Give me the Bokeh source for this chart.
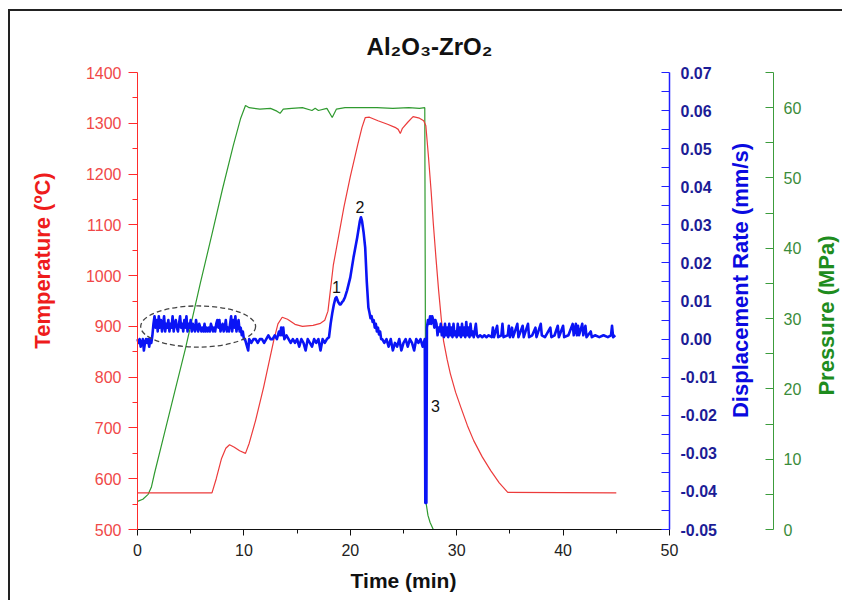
import math
from bokeh.plotting import figure
from bokeh.models import Range1d, LinearAxis, FixedTicker, NumeralTickFormatter
from bokeh.embed import file_html
from bokeh.resources import INLINE
from bokeh.core.properties import value

FONT = "Liberation Sans"

# ---------------- data ----------------
temp_time = [0, 7.0, 7.4, 7.9, 8.3, 8.65, 9.1, 9.6, 10.15, 10.5, 11.1, 11.85, 12.8, 13.2, 13.6,
             14.1, 14.8, 15.5, 16.5, 17.2, 17.6, 17.9, 18.4, 19.4, 20.0, 20.7, 21.1, 21.4, 21.8,
             22.6, 23.5, 24.2, 24.5, 24.7, 24.9, 25.4, 25.9, 26.5, 26.9, 27.1, 27.35, 27.6, 27.8,
             28.05, 28.3, 28.55, 28.76, 29.1, 29.4, 29.9, 30.4, 31.0, 31.6, 32.4, 33.2, 34.0, 34.8, 45.0]
temp_vals = [572, 572, 600, 640, 660, 667, 662, 655, 650, 670, 715, 780, 872, 905, 918,
             914, 904, 900, 902, 906, 912, 930, 1020, 1135, 1195, 1258, 1292, 1311, 1312,
             1305, 1298, 1292, 1288, 1280, 1290, 1302, 1313, 1310, 1305, 1295, 1233, 1165, 1103,
             1035, 971, 915, 872, 835, 807, 770, 740, 705, 675, 643, 616, 592, 573, 572]

pres_time = [0, 0.5, 1.0, 1.3, 1.6, 2.5, 3.5, 4.5, 5.9, 7.0, 8.0, 9.0, 9.7, 10.15, 10.5, 11.5,
             12.5, 13.1, 13.4, 13.7, 14.5, 15.5, 16.4, 16.7, 17.0, 17.8, 18.3, 18.7, 19.5, 21.0,
             22.5, 24.0, 25.5, 26.5, 27.0, 27.1, 27.3, 27.5, 27.8, 28.2, 45.0]
pres_vals = [4.0, 4.3, 5.0, 6.0, 8.0, 13.5, 19.6, 25.7, 35.0, 42.0, 48.5, 54.6, 58.5, 60.3, 60.0, 59.8,
             59.9, 59.5, 59.2, 59.8, 59.9, 60.0, 59.6, 59.9, 59.6, 59.9, 58.6, 59.8, 60.0, 60.0,
             60.0, 59.9, 60.0, 59.9, 60.0, 4.0, 2.0, 1.0, 0.0, 0.0, 0.0]

disp_time = [
    0.0, 0.1, 0.2, 0.3, 0.4, 0.5, 0.6, 0.7, 0.8, 0.9, 1.0, 1.1, 1.2, 1.3, 1.4,
    1.5, 1.6, 1.7, 1.8, 1.9, 2.0, 2.1, 2.2, 2.3, 2.4, 2.5, 2.6, 2.7, 2.8, 2.9,
    3.0, 3.1, 3.2, 3.3, 3.4, 3.5, 3.6, 3.7, 3.8, 3.9, 4.0, 4.1, 4.2, 4.3, 4.4,
    4.5, 4.6, 4.7, 4.8, 4.9, 5.0, 5.1, 5.2, 5.3, 5.4, 5.5, 5.6, 5.7, 5.8, 5.9,
    6.0, 6.1, 6.2, 6.3, 6.4, 6.5, 6.6, 6.7, 6.8, 6.9, 7.0, 7.1, 7.2, 7.3, 7.4,
    7.5, 7.6, 7.7, 7.8, 7.9, 8.0, 8.1, 8.2, 8.3, 8.4, 8.5, 8.6, 8.7, 8.8, 8.9,
    9.0, 9.1, 9.2, 9.3, 9.4, 9.5, 9.6, 9.7, 9.8, 9.9, 10.0,
    10.1, 10.3, 10.4, 10.5, 10.7, 10.9, 11.1, 11.3, 11.5, 11.7, 11.9, 12.1, 12.3, 12.5,
    12.7, 12.9, 13.1, 13.3, 13.4, 13.5, 13.6, 13.7, 13.8, 14.0, 14.2, 14.4, 14.6, 14.8,
    15.0, 15.2, 15.4, 15.6, 15.8, 16.0, 16.2, 16.4, 16.6, 16.8, 17.0, 17.2, 17.4, 17.6, 17.8,
    18.0, 18.15, 18.3, 18.45, 18.6, 18.7, 18.85, 19.0, 19.1, 19.25, 19.35, 19.5, 19.7, 20.0,
    20.3, 20.65, 20.9, 21.0, 21.1, 21.25, 21.4, 21.55, 21.7, 21.8, 21.9, 22.0, 22.1, 22.2,
    22.3, 22.4, 22.5, 22.6, 22.7, 22.8, 22.9,
    23.0, 23.2, 23.4, 23.6, 23.8, 24.0, 24.2, 24.4, 24.6, 24.8, 25.0, 25.2, 25.4, 25.6,
    25.8, 26.0, 26.2, 26.4, 26.6, 26.8, 27.0,
    27.05, 27.15, 27.2, 27.3, 27.4, 27.5, 27.6, 27.7, 27.8, 27.9, 28.0, 28.1, 28.2, 28.3,
    28.4, 28.5, 28.6, 28.7, 28.8, 28.9, 29.0, 29.1, 29.2, 29.3, 29.4, 29.5, 29.6, 29.7,
    29.8, 29.9, 30.0, 30.1, 30.2, 30.3, 30.4, 30.5, 30.6, 30.7, 30.8, 30.9, 31.0, 31.1,
    31.2, 31.3, 31.4, 31.5, 31.6, 31.8, 31.9, 32.0, 32.2, 32.4, 32.6, 32.8, 33.0, 33.3,
    33.4, 33.5, 33.8, 33.9, 34.2, 34.3, 34.4, 34.8, 34.9, 35.0, 35.2, 35.3, 35.7, 35.8,
    36.2, 36.3, 36.7, 36.8, 37.1, 37.4, 37.5, 37.9, 38.0, 38.3, 38.8, 38.9, 39.2, 39.5,
    39.6, 40.0, 40.1, 40.5, 40.9, 41.0, 41.2, 41.3, 41.4, 41.5, 41.8, 41.9, 42.1, 42.2,
    42.6, 42.7, 43.0, 43.4, 43.8, 44.2, 44.5, 44.6, 44.7, 44.9]
disp_rate = [
    0.000, -0.001, 0.000, -0.002, -0.001, 0.000, -0.003, -0.001, 0.000, -0.001, 0.000, -0.002, 0.000, -0.001, 0.001,
    0.004, 0.006, 0.003, 0.005, 0.002, 0.006, 0.003, 0.005, 0.002, 0.004, 0.006, 0.002, 0.004, 0.003, 0.005,
    0.002, 0.004, 0.003, 0.006, 0.002, 0.004, 0.005, 0.003, 0.002, 0.004, 0.006, 0.003, 0.004, 0.002, 0.005,
    0.003, 0.006, 0.002, 0.004, 0.003, 0.005, 0.002, 0.004, 0.003, 0.002, 0.005, 0.003, 0.002, 0.004, 0.003,
    0.002, 0.003, 0.002, 0.004, 0.002, 0.003, 0.002, 0.003, 0.002, 0.004, 0.003, 0.002, 0.003, 0.002, 0.004,
    0.005, 0.003, 0.005, 0.002, 0.003, 0.004, 0.002, 0.003, 0.005, 0.002, 0.003, 0.002, 0.004, 0.006, 0.002,
    0.005, 0.003, 0.006, 0.002, 0.004, 0.005, 0.002, 0.003, 0.001, 0.002, 0.000,
    0.000, -0.002, -0.003, 0.000, -0.001, 0.000, 0.000, -0.001, 0.000, 0.000, -0.001, 0.000, 0.001, 0.000,
    0.000, 0.001, 0.000, 0.002, 0.001, 0.003, 0.001, 0.003, 0.000, 0.001, 0.000, -0.001, 0.000, -0.001,
    0.000, -0.002, 0.000, -0.001, -0.003, 0.000, -0.001, -0.002, 0.000, -0.001, 0.000, -0.003, 0.000, -0.001, 0.000,
    0.0005, 0.004, 0.0067, 0.009, 0.0107, 0.011, 0.0098, 0.0091, 0.0091, 0.0098, 0.0101, 0.011, 0.0128, 0.0162,
    0.0214, 0.0267, 0.031, 0.032, 0.031, 0.028, 0.024, 0.015, 0.0083, 0.007, 0.0055, 0.006, 0.0045, 0.005,
    0.003, 0.004, 0.002, 0.003, 0.0012, 0.002, 0.000,
    0.000, -0.001, 0.000, -0.002, 0.000, -0.003, -0.001, -0.002, 0.000, -0.003, -0.001, 0.000, -0.002, 0.000,
    -0.001, -0.003, 0.000, -0.001, 0.000, -0.002, 0.000,
    -0.043, -0.043, 0.003, 0.005, 0.004, 0.006, 0.004, 0.006, 0.005, 0.003, 0.005, 0.004, 0.001, 0.003,
    0.002, 0.004, 0.001, 0.003, 0.0005, 0.004, 0.001, 0.003, 0.0005, 0.004, 0.001, 0.003, 0.0005, 0.004,
    0.001, 0.002, 0.0005, 0.004, 0.001, 0.003, 0.0005, 0.004, 0.001, 0.003, 0.0005, 0.0045, 0.001, 0.003,
    0.0005, 0.004, 0.001, 0.002, 0.0005, 0.004, 0.001, 0.0005, 0.001, 0.0005, 0.001, 0.0005, 0.001, 0.0005,
    0.003, 0.0005, 0.0035, 0.0005, 0.001, 0.004, 0.0005, 0.001, 0.0035, 0.0005, 0.003, 0.0005, 0.004, 0.0005,
    0.0035, 0.0005, 0.004, 0.0005, 0.001, 0.003, 0.0005, 0.004, 0.001, 0.0005, 0.003, 0.0005, 0.001, 0.0035,
    0.0005, 0.0035, 0.0005, 0.001, 0.004, 0.001, 0.004, 0.001, 0.0035, 0.001, 0.004, 0.001, 0.0035, 0.0005,
    0.002, 0.0005, 0.001, 0.0005, 0.001, 0.0005, 0.001, 0.0035, 0.0005, 0.001]

# annotation texts
peak_labels = ["1", "2", "3"]
peak_label_t = [18.7, 20.9, 28.0]
peak_label_d = [0.0138, 0.0348, -0.0177]

# dashed ellipse around the early noise (time centre, rate centre, width min, height rate)
ell_t, ell_d, ell_w, ell_h = [5.7], [0.0033], [10.8], [0.0108]

time_span = (0, 50)
temp_span = (500, 1400)
disp_span = (-0.05, 0.07)
pres_span = (0, 65)

temp_ticks = [500, 600, 700, 800, 900, 1000, 1100, 1200, 1300, 1400]
temp_minor = [550, 650, 750, 850, 950, 1050, 1150, 1250, 1350]
time_ticks = [0, 10, 20, 30, 40, 50]
time_minor = [5, 15, 25, 35, 45]
disp_ticks = [-0.05, -0.04, -0.03, -0.02, -0.01, 0.0, 0.01, 0.02, 0.03, 0.04, 0.05, 0.06, 0.07]
disp_minor = [-0.045, -0.035, -0.025, -0.015, -0.005, 0.005, 0.015, 0.025, 0.035, 0.045, 0.055, 0.065]
pres_ticks = [0, 5, 10, 15, 20, 25, 30, 35, 40, 45, 50, 55, 60, 65]
pres_labels = {0: "0", 5: "", 10: "10", 15: "", 20: "20", 25: "", 30: "30", 35: "",
               40: "40", 45: "", 50: "50", 55: "", 60: "60", 65: ""}

# ---------------- layout (pixels) ----------------
W, H = 842, 600
X0_PX, X1_PX = 137, 669      # pixel columns of the time-axis ends
YT_PX, YB_PX = 72, 529       # pixel rows of the value-axis ends
PRES_AXIS_PX = 773


def view(span, lo_px, hi_px, size, flip):
    """Range spanning the whole canvas that maps span onto [lo_px, hi_px]."""
    a, b = span
    k = (b - a) / (hi_px - lo_px)
    if flip:   # vertical: pixel rows grow downward
        return Range1d(a - (size - hi_px) * k, b + lo_px * k)
    return Range1d(a - lo_px * k, b + (size - hi_px) * k)


def tx(px):
    return time_span[0] + (px - X0_PX) * (time_span[1] - time_span[0]) / (X1_PX - X0_PX)


def ty(py):
    return temp_span[1] - (py - YT_PX) * (temp_span[1] - temp_span[0]) / (YB_PX - YT_PX)


# colours
RED_LINE = "#ec3b3b"
RED_AX = "#ff2b2b"
RED_TXT = "#f04848"
RED_LBL = "#ee1c1c"
BLUE_LINE = "#0a14f5"
BLUE_AX = "#2020ff"
BLUE_TXT = "#1c1c96"
BLUE_LBL = "#0a0ae0"
GREEN_LINE = "#2f9a2f"
GREEN_AX = "#3c9c3c"
GREEN_TXT = "#3a8c3a"
GREEN_LBL = "#1e8c1e"

# ---------------- figure ----------------
p = figure(width=W, height=H,
           x_range=view(time_span, X0_PX, X1_PX, W, False),
           y_range=view(temp_span, YT_PX, YB_PX, H, True),
           output_backend="svg", toolbar_location=None,
           min_border_left=0, min_border_right=0, min_border_top=0, min_border_bottom=0)
p.extra_y_ranges = {"disp": view(disp_span, YT_PX, YB_PX, H, True),
                    "pres": view(pres_span, YT_PX, YB_PX, H, True)}
p.title.visible = False
p.xgrid.visible = False
p.ygrid.visible = False
p.outline_line_color = None
p.border_fill_color = None
p.background_fill_color = None
p.styles = {"box-shadow": "inset 8px 0 0 0 #fff, inset 0 9px 0 0 #fff, "
                          "inset 10px 0 0 0 #222, inset 0 11px 0 0 #222"}

# bottom axis
xa = p.xaxis[0]
xa.fixed_location = temp_span[0]
xa.bounds = time_span
xa.ticker = FixedTicker(ticks=time_ticks, minor_ticks=time_minor)
xa.major_label_text_font = FONT
xa.major_label_text_font_size = "16px"
xa.major_label_text_color = "#222222"
xa.major_label_standoff = 8
xa.axis_line_color = "#111111"
xa.major_tick_line_color = "#111111"
xa.minor_tick_line_color = "#111111"
xa.major_tick_in = 0
xa.major_tick_out = 6
xa.minor_tick_in = 0
xa.minor_tick_out = 4

# left (temperature) axis
ya = p.yaxis[0]
ya.fixed_location = time_span[0]
ya.bounds = temp_span
ya.ticker = FixedTicker(ticks=temp_ticks, minor_ticks=temp_minor)
ya.major_label_text_font = FONT
ya.major_label_text_font_size = "16px"
ya.major_label_text_color = RED_TXT
ya.major_label_standoff = 7
ya.axis_line_color = RED_AX
ya.major_tick_line_color = RED_AX
ya.minor_tick_line_color = RED_AX
ya.major_tick_in = 0
ya.major_tick_out = 9
ya.minor_tick_in = 0
ya.minor_tick_out = 5

# right axis 1: displacement rate (at the end of the time axis)
da = LinearAxis(y_range_name="disp", fixed_location=time_span[1], bounds=disp_span,
                ticker=FixedTicker(ticks=disp_ticks, minor_ticks=disp_minor),
                formatter=NumeralTickFormatter(format="0.00"))
da.major_label_text_font = FONT
da.major_label_text_font_size = "16px"
da.major_label_text_font_style = "bold"
da.major_label_text_color = BLUE_TXT
da.major_label_standoff = 11
da.axis_line_color = BLUE_AX
da.axis_line_width = 1.5
da.major_tick_line_color = BLUE_AX
da.minor_tick_line_color = BLUE_AX
da.major_tick_in = 8
da.major_tick_out = 0
da.minor_tick_in = 8
da.minor_tick_out = 0
p.add_layout(da, "right")

# right axis 2: pressure
pa = LinearAxis(y_range_name="pres", fixed_location=tx(PRES_AXIS_PX), bounds=pres_span,
                ticker=FixedTicker(ticks=pres_ticks))
pa.major_label_overrides = pres_labels
pa.major_label_text_font = FONT
pa.major_label_text_font_size = "16px"
pa.major_label_text_color = GREEN_TXT
pa.major_label_standoff = 10
pa.axis_line_color = GREEN_AX
pa.major_tick_line_color = GREEN_AX
pa.minor_tick_line_color = None
pa.major_tick_in = 8
pa.major_tick_out = 0
p.add_layout(pa, "right")

# ---------------- titles ----------------
def title_text(txt, px, py, size, color, angle=0.0):
    p.text(x=[tx(px)], y=[ty(py)], text=[txt], angle=angle,
           text_font=value(FONT), text_font_size=size, text_font_style="bold",
           text_color=color, text_align="center", text_baseline="middle")


title_text("Al\u2082O\u2083-ZrO\u2082", 429, 46, "24px", "#111111")
title_text("Time (min)", 403, 580, "21px", "#111111")
title_text("Temperature (\u00baC)", 42, 260, "22px", RED_LBL, math.pi / 2)
title_text("Displacement Rate (mm/s)", 740, 280, "22px", BLUE_LBL, math.pi / 2)
title_text("Pressure (MPa)", 826, 315, "22px", GREEN_LBL, math.pi / 2)

# ---------------- curves ----------------
p.line(pres_time, pres_vals, y_range_name="pres", line_color=GREEN_LINE, line_width=1.2)
p.line(temp_time, temp_vals, line_color=RED_LINE, line_width=1.2)
p.line(disp_time, disp_rate, y_range_name="disp", line_color=BLUE_LINE, line_width=2.6,
       line_join="round")

p.ellipse(x=ell_t, y=ell_d, width=ell_w, height=ell_h, y_range_name="disp",
          fill_color=None, line_color="#444444", line_width=1.3, line_dash="5 3")

p.text(x=peak_label_t, y=peak_label_d, text=peak_labels, y_range_name="disp",
       text_font=value(FONT), text_font_size="16px", text_color="#111111",
       text_align="center", text_baseline="middle")

open("out.html", "w").write(file_html(p, INLINE))
